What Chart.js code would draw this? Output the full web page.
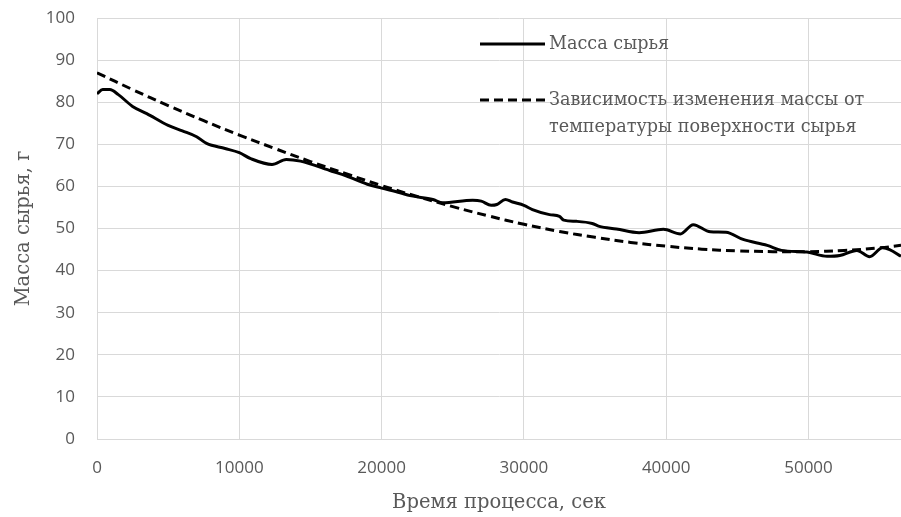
<!DOCTYPE html>
<html>
<head>
<meta charset="utf-8">
<script src="https://cdn.jsdelivr.net/npm/chart.js@4/dist/chart.umd.min.js"></script>
<style>
  html, body { margin: 0; padding: 0; background: #fff; }
  #wrap { width: 901px; height: 517px; position: relative; }
</style>
</head>
<body>
<div id="wrap"><canvas id="c" width="901" height="517"></canvas></div>
<script>
// ---- data ----
const massTime = [0, 400, 900, 1500, 2500, 3500, 5000, 6000, 7000, 7700, 9000, 10000, 10800, 12300, 13300, 14300, 16500, 17500, 19000, 20000, 21300, 22000, 23600, 24300, 26400, 27000, 27700, 28100, 28700, 29200, 30000, 30600, 31800, 32500, 32800, 33700, 34800, 35300, 36500, 38100, 39800, 41000, 41900, 43100, 44200, 45400, 47100, 48100, 49900, 51300, 52200, 53400, 54300, 55200, 55700, 56500];
const massValues = [82.0, 83.0, 83.0, 81.8, 79.0, 77.3, 74.5, 73.2, 71.8, 70.2, 69.0, 68.0, 66.6, 65.2, 66.4, 66.0, 63.6, 62.5, 60.5, 59.6, 58.5, 57.8, 56.9, 56.1, 56.7, 56.5, 55.5, 55.7, 56.9, 56.3, 55.5, 54.5, 53.3, 52.9, 52.0, 51.7, 51.2, 50.5, 49.9, 49.0, 49.8, 48.7, 50.9, 49.2, 49.1, 47.4, 46.0, 44.8, 44.4, 43.4, 43.6, 44.8, 43.3, 45.4, 45.0, 43.4];

const trendTime = [0, 2500, 5000, 7500, 10000, 12500, 15000, 17500, 20000, 22500, 25000, 27500, 30000, 32500, 35000, 37500, 40000, 42500, 45000, 47500, 50000, 52500, 55000, 56500];
const trendValues = [87.0, 83.0, 79.2, 75.6, 72.2, 69.0, 65.9, 63.0, 60.2, 57.6, 55.2, 53.0, 51.0, 49.3, 47.9, 46.7, 45.8, 45.1, 44.7, 44.5, 44.5, 44.8, 45.4, 46.0];

const seriesNames = ['Масса сырья', ['Зависимость изменения массы от', 'температуры поверхности сырья']];
const xTitle = 'Время процесса, сек';
const yTitle = 'Масса сырья, г';
const xTickValues = [0, 10000, 20000, 30000, 40000, 50000];
const yTickValues = [0, 10, 20, 30, 40, 50, 60, 70, 80, 90, 100];
const xMin = 0, xMax = 56500;
const yMin = 0, yMax = 100;

const toPts = (xs, ys) => xs.map((x, i) => ({ x: x, y: ys[i] }));

const tickFont = { family: '"Open Sans", sans-serif', size: 17 };
const serif = '"DejaVu Serif", serif';
const grey = '#595959';

const legendPlugin = {
  id: 'customLegend',
  afterDraw(chart) {
    const ctx = chart.ctx;
    ctx.save();
    const items = chart.data.datasets;
    const x0 = 480, x1 = 545, tx = 549;
    const rows = [44, 100];
    ctx.font = '17.6px ' + serif;
    ctx.fillStyle = grey;
    ctx.textBaseline = 'middle';
    ctx.textAlign = 'left';
    items.forEach((ds, i) => {
      const y = rows[i];
      ctx.beginPath();
      ctx.strokeStyle = '#000';
      ctx.lineWidth = ds.borderWidth;
      ctx.setLineDash(ds.borderDash || []);
      ctx.moveTo(x0, y);
      ctx.lineTo(x1, y);
      ctx.stroke();
      ctx.setLineDash([]);
      const lines = Array.isArray(ds.label) ? ds.label : [ds.label];
      lines.forEach((t, j) => ctx.fillText(t, tx, y + j * 27));
    });
    ctx.restore();
  }
};

new Chart(document.getElementById('c'), {
  type: 'line',
  data: {
    datasets: [
      {
        label: seriesNames[0],
        data: toPts(massTime, massValues),
        borderColor: '#000',
        borderWidth: 3,
        pointRadius: 0,
        cubicInterpolationMode: 'monotone',
        fill: false
      },
      {
        label: seriesNames[1],
        data: toPts(trendTime, trendValues),
        borderColor: '#000',
        borderWidth: 3,
        borderDash: [9, 5],
        pointRadius: 0,
        tension: 0.4,
        fill: false
      }
    ]
  },
  options: {
    responsive: false,
    animation: false,
    events: [],
    layout: { padding: { top: 18, right: 0, left: 0, bottom: 0 } },
    plugins: { legend: { display: false }, tooltip: { enabled: false } },
    scales: {
      x: {
        type: 'linear',
        min: xMin, max: xMax,
        afterBuildTicks(s) { s.ticks = xTickValues.map(v => ({ value: v })); },
        ticks: { color: grey, font: tickFont, padding: 19, maxRotation: 0, autoSkip: false, callback: v => String(v) },
        grid: { color: '#d9d9d9', drawTicks: false },
        border: { color: '#d9d9d9' },
        title: { display: true, text: xTitle, color: grey, font: { family: serif, size: 19.5 }, padding: { top: 0, bottom: 2 } },
        afterFit(s) { s.height = 78; s.paddingLeft = 0; s.paddingRight = 0; }
      },
      y: {
        min: yMin, max: yMax,
        afterBuildTicks(s) { s.ticks = yTickValues.map(v => ({ value: v })); },
        ticks: { color: grey, font: tickFont, padding: 22, callback: v => String(v) },
        grid: { color: '#d9d9d9', drawTicks: false },
        border: { color: '#d9d9d9' },
        title: { display: true, text: yTitle, color: grey, font: { family: serif, size: 19.5 }, padding: { top: 12, bottom: 0 } },
        afterFit(s) { s.width = 97; s.paddingTop = 0; s.paddingBottom = 0; }
      }
    }
  },
  plugins: [legendPlugin]
});
</script>
</body>
</html>
